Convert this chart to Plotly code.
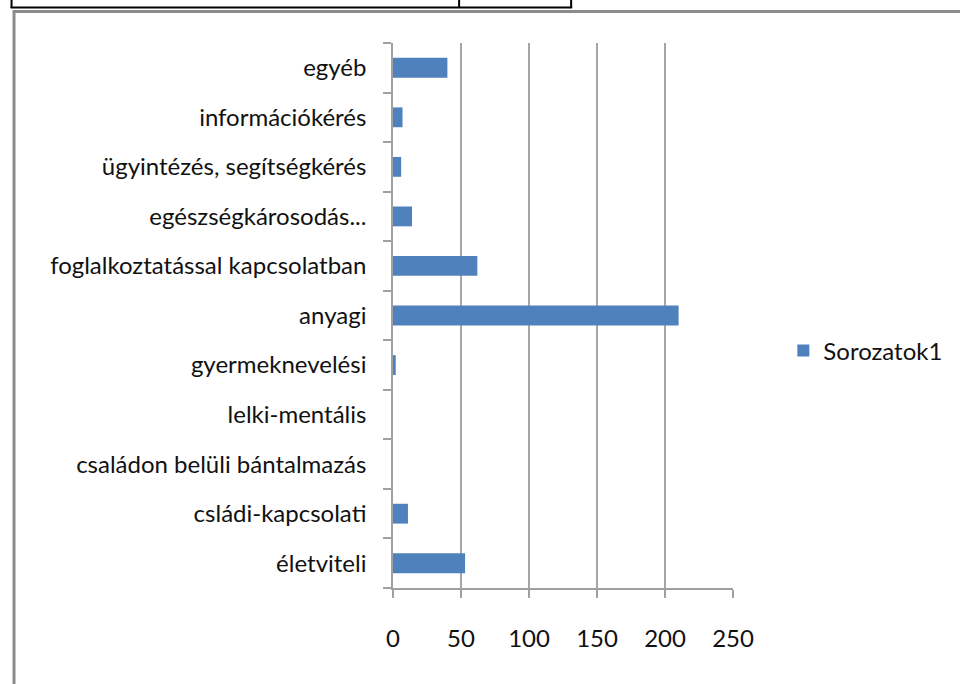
import plotly.graph_objects as go

categories = [
    "életviteli",
    "csládi-kapcsolati",
    "családon belüli bántalmazás",
    "lelki-mentális",
    "gyermeknevelési",
    "anyagi",
    "foglalkoztatással kapcsolatban",
    "egészségkárosodás...",
    "ügyintézés, segítségkérés",
    "információkérés",
    "egyéb",
]
values = [53, 11, 0, 0, 2, 210, 62, 14, 6, 7, 40]
series_name = "Sorozatok1"
x_ticks = [0, 50, 100, 150, 200, 250]

W, H = 960, 684
L, R, T, B = 392.5, 737, 43, 588

def px(x):
    return (x - L) / (R - L)

def py(y):
    return (B - y) / (B - T)

FONT = "Lato"
TXT = "#111111"

fig = go.Figure()
fig.add_trace(go.Bar(
    y=categories, x=values, orientation="h", name=series_name,
    marker=dict(color="#4F81BD", line=dict(width=0)),
    showlegend=True,
))

shapes = [
    # grey outer frame
    dict(type="rect", xref="paper", yref="paper",
         x0=px(8.5), x1=px(975), y0=py(11.5), y1=py(700),
         line=dict(color="#8C8C8C", width=3), fillcolor="rgba(0,0,0,0)", layer="below"),
    # table fragment at top
    dict(type="line", xref="paper", yref="paper", x0=px(5), x1=px(574), y0=py(7.5), y1=py(7.5),
         line=dict(color="#000000", width=2)),
    dict(type="line", xref="paper", yref="paper", x0=px(6), x1=px(6), y0=py(-2), y1=py(8),
         line=dict(color="#000000", width=2)),
    dict(type="line", xref="paper", yref="paper", x0=px(459.5), x1=px(459.5), y0=py(-2), y1=py(8),
         line=dict(color="#000000", width=2)),
    dict(type="line", xref="paper", yref="paper", x0=px(573), x1=px(573), y0=py(-2), y1=py(8),
         line=dict(color="#000000", width=2)),
]

fig.update_layout(
    width=W, height=H,
    margin=dict(l=L, r=W - R, t=T, b=H - B, pad=0),
    paper_bgcolor="white", plot_bgcolor="white",
    font=dict(family=FONT, size=24, color=TXT),
    bargap=0.6,
    shapes=shapes,
    showlegend=True,
    legend=dict(x=px(788), y=py(351), xanchor="left", yanchor="middle",
                font=dict(family=FONT, size=24, color=TXT),
                itemwidth=30, bgcolor="rgba(0,0,0,0)"),
    xaxis=dict(
        range=[0, 250], tickvals=x_ticks, ticktext=[str(v) for v in x_ticks],
        showgrid=True, gridcolor="#A6A6A6", gridwidth=1.5,
        showline=True, linecolor="#A0A0A0", linewidth=1.5,
        ticks="outside", ticklen=8, tickcolor="#A0A0A0", tickwidth=1.5,
        ticklabelstandoff=20, zeroline=False, fixedrange=True,
    ),
    yaxis=dict(
        type="category", categoryorder="array", categoryarray=categories,
        showline=True, linecolor="#A0A0A0", linewidth=1.5,
        ticks="outside", tickson="boundaries", ticklen=8, tickcolor="#A0A0A0", tickwidth=1.5,
        ticklabelstandoff=20, showgrid=False, zeroline=False, fixedrange=True,
    ),
)

fig.write_html("out.html", config={"displayModeBar": False},
               post_script="document.body.style.margin='0';")
